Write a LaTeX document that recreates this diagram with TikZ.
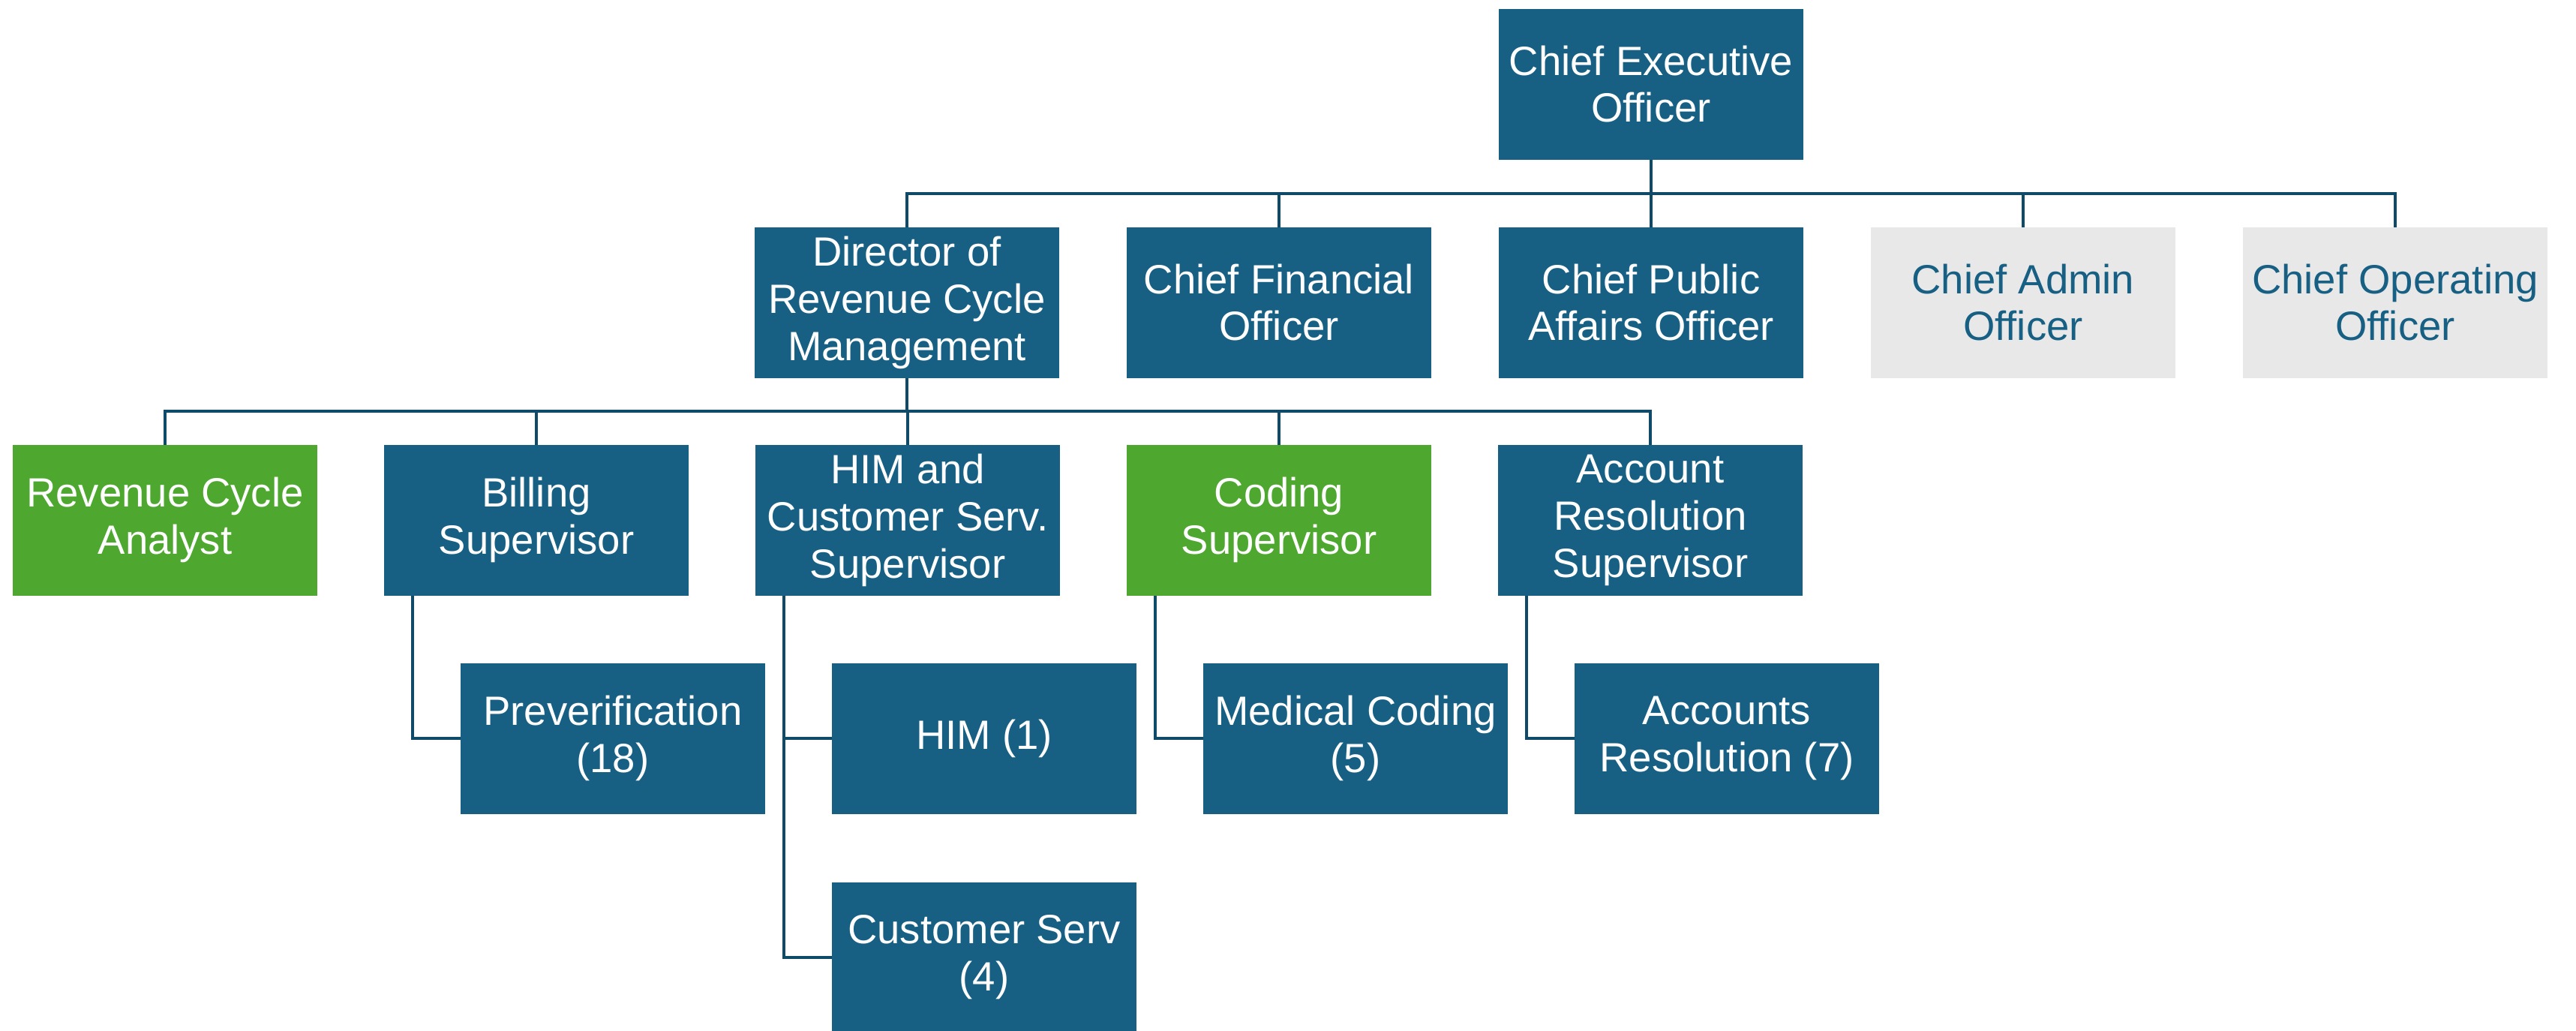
\documentclass[tikz,border=0pt]{standalone}
\usepackage{fontspec}
\setmainfont{Liberation Sans}
\usetikzlibrary{positioning}
\definecolor{orgblue}{HTML}{176084}
\definecolor{orggreen}{HTML}{4EA72E}
\definecolor{orggray}{HTML}{E8E8E8}
\definecolor{orgline}{HTML}{0F4A69}
\begin{document}
\begin{tikzpicture}[
    box/.style={fill=orgblue,text=white,minimum width=4.06cm,minimum height=2.01cm,
                inner sep=0pt,outer sep=0pt,align=center,font=\fontsize{15.5}{17.9}\selectfont},
    grn/.style={box,fill=orggreen},
    gry/.style={box,fill=orggray,text=orgblue},
    lnk/.style={draw=orgline,line width=0.9pt},
    node distance=0.9cm]
 \useasboundingbox (0,0) rectangle (34.34,-13.73);
 % top
 \node [box] (ceo) at (22.01,-1.12) {Chief Executive\\Officer};
 % officers
 \node [box] (dir) at (12.09,-4.03) {Director of\\Revenue Cycle\\Management};
 \node [box,right=of dir] (cfo) {Chief Financial\\Officer};
 \node [box,right=of cfo] (cpao) {Chief Public\\Affairs Officer};
 \node [gry,right=of cpao] (cao) {Chief Admin\\Officer};
 \node [gry,right=of cao] (coo) {Chief Operating\\Officer};
 % supervisors
 \node [grn] (rca) at (2.20,-6.93) {Revenue Cycle\\Analyst};
 \node [box,right=0.89cm of rca] (bill) {Billing\\Supervisor};
 \node [box,right=0.89cm of bill] (himsup) {HIM and\\Customer Serv.\\Supervisor};
 \node [grn,right=0.89cm of himsup] (codesup) {Coding\\Supervisor};
 \node [box,right=0.89cm of codesup] (acctsup) {Account\\Resolution\\Supervisor};
 % teams
 \node [box,anchor=north west] (prever) at ([xshift=1.02cm,yshift=-0.9cm]bill.south west) {Preverification\\(18)};
 \node [box,anchor=north west] (him) at ([xshift=1.02cm,yshift=-0.9cm]himsup.south west) {HIM (1)};
 \node [box,below=0.91cm of him] (cust) {Customer Serv\\(4)};
 \node [box,anchor=north west] (medcode) at ([xshift=1.02cm,yshift=-0.9cm]codesup.south west) {Medical Coding\\(5)};
 \node [box,anchor=north west] (acctres) at ([xshift=1.02cm,yshift=-0.9cm]acctsup.south west) {Accounts\\Resolution (7)};
 % connectors
 \coordinate (bus1) at (0,-2.58);
 \coordinate (bus2) at (0,-5.48);
 \draw [lnk] (ceo.south) -- (ceo.south |- cpao.north);
 \draw [lnk] (dir.north) -- (dir.north |- bus1) -- (coo.north |- bus1) -- (coo.north);
 \foreach \n in {cfo,cao}
   \draw [lnk] (\n.north) -- (\n.north |- bus1);
 \draw [lnk] (dir.south) -- (dir.south |- bus2);
 \draw [lnk] (rca.north) -- (rca.north |- bus2) -- (acctsup.north |- bus2) -- (acctsup.north);
 \foreach \n in {bill,himsup,codesup}
   \draw [lnk] (\n.north) -- (\n.north |- bus2);
 \draw [lnk] ([xshift=0.38cm]bill.south west) |- (prever.west);
 \draw [lnk] ([xshift=0.38cm]himsup.south west) |- (cust.west);
 \draw [lnk] ([xshift=0.38cm]himsup.south west |- him.west) -- (him.west);
 \draw [lnk] ([xshift=0.38cm]codesup.south west) |- (medcode.west);
 \draw [lnk] ([xshift=0.38cm]acctsup.south west) |- (acctres.west);
\end{tikzpicture}
\end{document}
